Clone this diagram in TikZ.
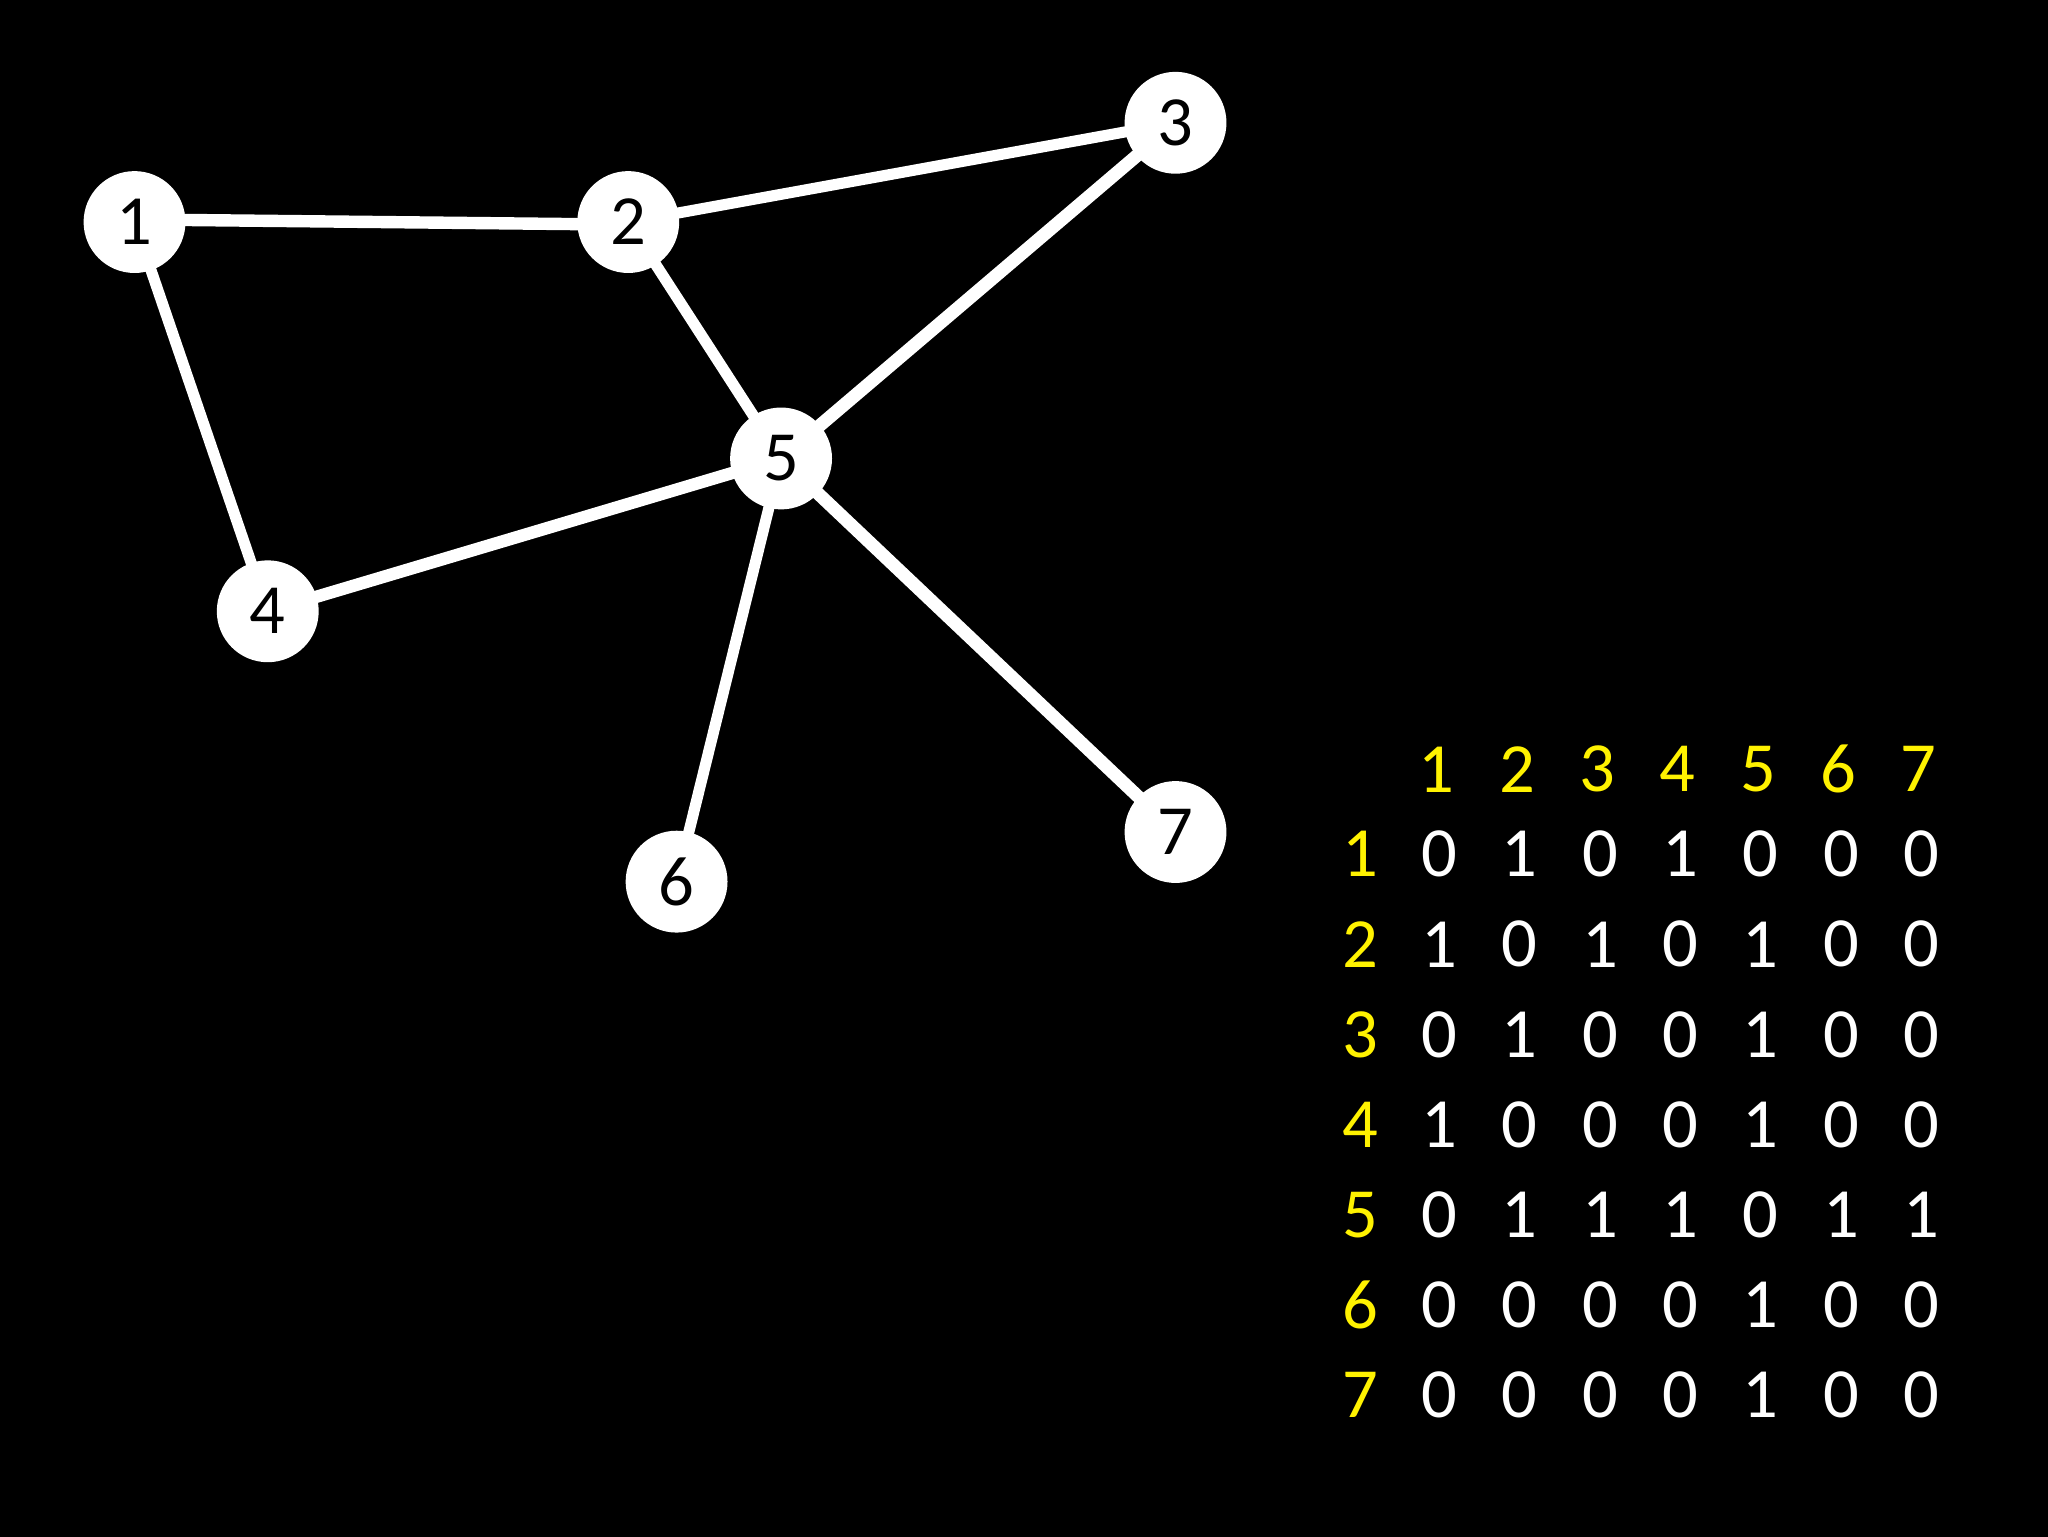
\documentclass[tikz,border=0pt]{standalone}
\usepackage{fontspec}
\setmainfont{Carlito}
\pgfdeclarelayer{bg}
\pgfdeclarelayer{edges}
\pgfsetlayers{bg,edges,main}
\begin{document}
\begin{tikzpicture}[x=1pt,y=-1pt,
  vtx/.style={circle,fill=white,minimum size=78pt,inner sep=0pt,text=black,font=\fontsize{54}{60}\selectfont},
  edge/.style={draw=white,line width=9.5pt},
  thinedge/.style={draw=white,line width=8.5pt},
  hdr/.style={text=yellow,inner sep=0pt,font=\fontsize{54}{60}\selectfont},
  cell/.style={text=white,inner sep=0pt,font=\fontsize{54}{60}\selectfont}]
\useasboundingbox (0,0) rectangle (1568,1176);
\begin{pgfonlayer}{bg}
\fill[black] (-6,-6) rectangle (1574,1182);
\end{pgfonlayer}
% vertices
\node[vtx] (n1) at (103,170) {1};
\node[vtx] (n2) at (481,170) {2};
\node[vtx] (n3) at (900,94) {3};
\node[vtx] (n4) at (205,468) {4};
\node[vtx] (n5) at (598,351) {5};
\node[vtx] (n6) at (518,675) {6};
\node[vtx] (n7) at (900,637) {7};
% edges
\begin{pgfonlayer}{edges}
\draw[edge] ([yshift=2pt]n1.center) -- ([yshift=-2pt]n2.center);
\draw[thinedge] (n2.center) -- (n3.center);
\draw[thinedge] (n1.center) -- (n4.center);
\draw[thinedge] (n2.center) -- (n5.center);
\draw[edge,line width=10pt] (n3.center) -- (n5.center);
\draw[edge] (n4.center) -- (n5.center);
\draw[thinedge] (n5.center) -- (n6.center);
\draw[edge,line width=10pt] (n5.center) -- (n7.center);
\end{pgfonlayer}
% matrix header
\foreach \j in {1,...,7} {
  \node[hdr] (h\j) at ({1100+61.5*(\j-1)},589) {\j};
}
% matrix rows
\foreach \row [count=\i] in {{0,1,0,1,0,0,0},{1,0,1,0,1,0,0},{0,1,0,0,1,0,0},{1,0,0,0,1,0,0},{0,1,1,1,0,1,1},{0,0,0,0,1,0,0},{0,0,0,0,1,0,0}} {
  \node[hdr] (r\i) at (1041.5,{654+69*(\i-1)}) {\i};
  \foreach \v [count=\j] in \row {
    \node[cell] (c\i-\j) at ({1102+61.5*(\j-1)},{654+69*(\i-1)}) {\v};
  }
}
\end{tikzpicture}
\end{document}
